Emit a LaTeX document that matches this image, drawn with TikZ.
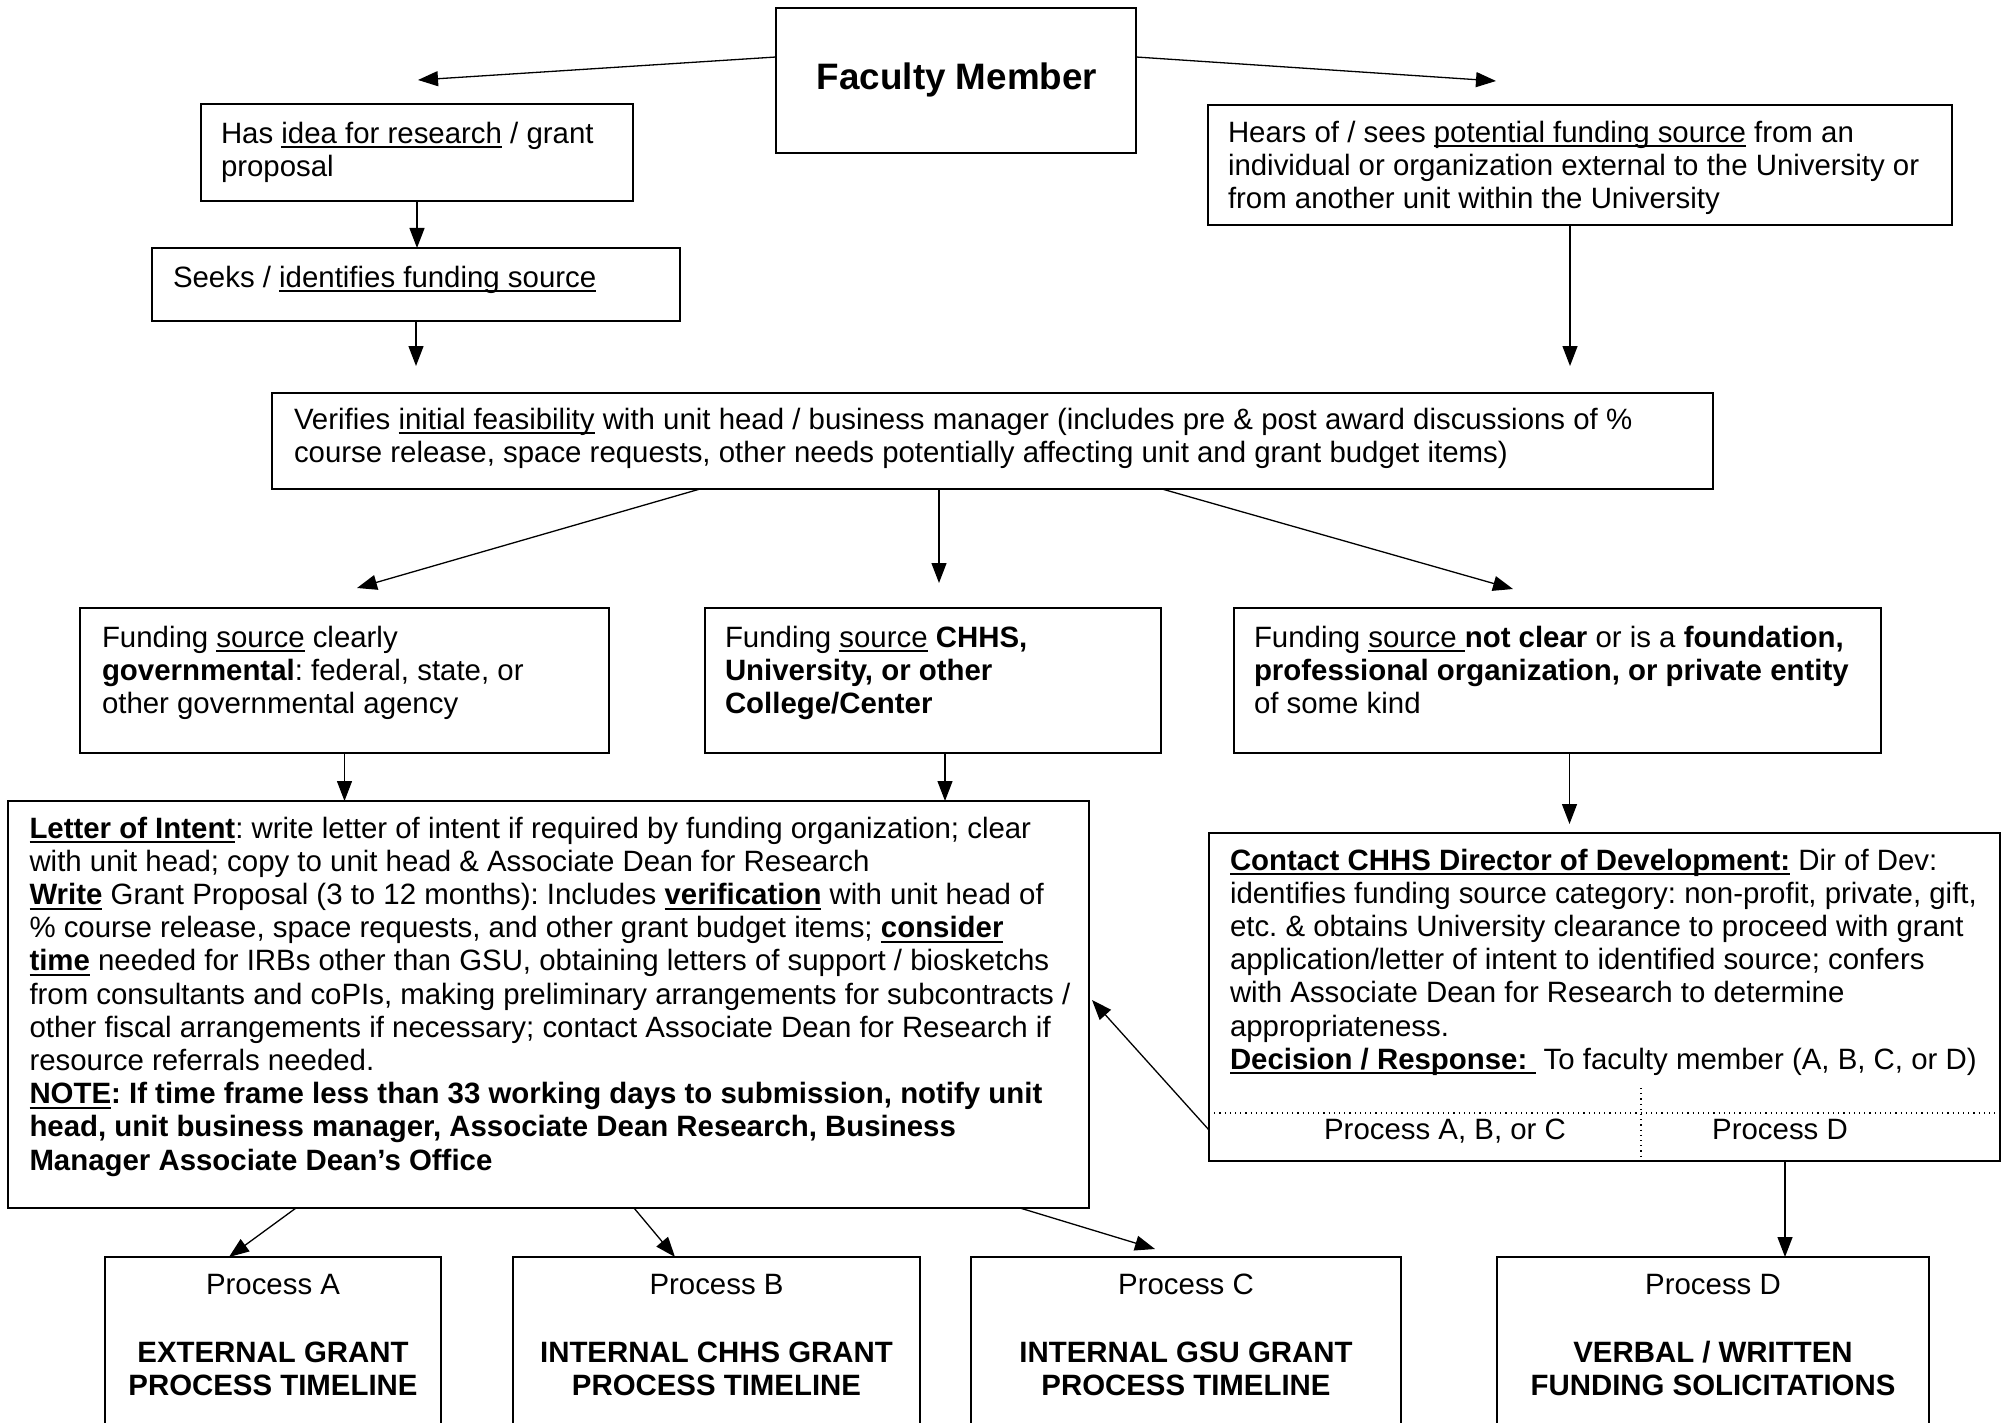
\documentclass[tikz,border=0pt]{standalone}
\usepackage{fontspec}
\setmainfont{Liberation Sans}
\usetikzlibrary{arrows.meta,calc}
\frenchspacing
\newcommand{\ulx}[1]{\leavevmode\setbox0=\hbox{#1}\rlap{\rule[-2.6pt]{\wd0}{1pt}}\box0\relax}
\newcommand{\bx}[5]{\node[box, minimum width={(#4-#2)*0.5pt}, minimum height={(#5-#3)*0.5pt}] (#1) at (#2,#3) {};}
\tikzset{
  box/.style={draw, line width=0.9pt, inner sep=0pt, outer sep=0pt, anchor=north west},
  txt/.style={inner sep=0pt, outer sep=0pt, anchor=north west, align=left, font={\fontsize{14.7}{16.6}\selectfont}},
  ctxt/.style={inner sep=0pt, outer sep=0pt, anchor=north, align=center, font={\bfseries\fontsize{14.7}{16.6}\selectfont}},
  btxt/.style={inner sep=0pt, outer sep=0pt, anchor=base, font={\fontsize{14.7}{16.6}\selectfont}},
  arr/.style={line width=0.65pt, -{Triangle[length=10pt,width=7.5pt]}},
  dots/.style={line width=0.6pt, dotted},
}
\begin{document}
\begin{tikzpicture}[x=0.5pt,y=-0.5pt]
\useasboundingbox (0,0) rectangle (2002,1423);
\fill[white] (0,0) rectangle (2002,1423);
\clip (0,0) rectangle (2002,1423);

% boxes
\bx{fac}{776}{8}{1136}{153}
\bx{has}{201}{104}{633}{201}
\bx{seeks}{152}{248}{680}{321}
\bx{hears}{1208}{105}{1952}{225}
\bx{ver}{272}{393}{1713}{489}
\bx{gov}{80}{608}{609}{753}
\bx{chhs}{705}{608}{1161}{753}
\bx{nc}{1234}{608}{1881}{753}
\bx{let}{8}{801}{1089}{1208}
\bx{con}{1209}{833}{2000}{1161}
\bx{pa}{105}{1257}{441}{1440}
\bx{pb}{513}{1257}{920}{1440}
\bx{pc}{971}{1257}{1401}{1440}
\bx{pd}{1497}{1257}{1929}{1440}

% texts
\node[inner sep=0pt, anchor=base, font={\bfseries\fontsize{18.4}{21}\selectfont}] (fact) at (957,90) {Faculty Member};
\node[txt] (hast) at (221,119.8) {\strut Has \ulx{idea for research} / grant\\proposal};
\node[txt] (seekt) at (173,263.8) {\strut Seeks / \ulx{identifies funding source}};
\node[txt] (heart) at (1228,118.8) {\strut Hears of / sees \ulx{potential funding source} from an\\individual or organization external to the University or\\from another unit within the University};
\node[txt] (vert) at (294,405.8) {\strut Verifies \ulx{initial feasibility} with unit head / business manager (includes pre \& post award discussions of \%\\course release, space requests, other needs potentially affecting unit and grant budget items)};
\node[txt] (govt) at (102,623.8) {\strut Funding \ulx{source} clearly\\\textbf{governmental}: federal, state, or\\other governmental agency};
\node[txt] (chht) at (725,623.8) {\strut Funding \ulx{source} \textbf{CHHS,}\\\textbf{University, or other}\\\textbf{College/Center}};
\node[txt] (nct) at (1254,623.8) {\strut Funding \ulx{source }\textbf{not clear} or is a \textbf{foundation,}\\\textbf{professional organization, or private entity}\\of some kind};
\node[txt] (lett) at (29.5,814.8) {\strut \ulx{\textbf{Letter of Intent}}: write letter of intent if required by funding organization; clear\\
with unit head; copy to unit head \& Associate Dean for Research\\
\ulx{\textbf{Write}} Grant Proposal (3 to 12 months): Includes \ulx{\textbf{verification}} with unit head of\\
\% course release, space requests, and other grant budget items; \ulx{\textbf{consider}}\\
\ulx{\textbf{time}} needed for IRBs other than GSU, obtaining letters of support / biosketchs\\
from consultants and coPIs, making preliminary arrangements for subcontracts /\\
other fiscal arrangements if necessary; contact Associate Dean for Research if\\
resource referrals needed.\\
\textbf{\ulx{NOTE}: If time frame less than 33 working days to submission, notify unit}\\
\textbf{head, unit business manager, Associate Dean Research, Business}\\
\textbf{Manager Associate Dean’s Office}};
\node[txt] (cont) at (1230,846.8) {\strut \ulx{\textbf{Contact CHHS Director of Development:}} Dir of Dev:\\
identifies funding source category: non-profit, private, gift,\\
etc. \& obtains University clearance to proceed with grant\\
application/letter of intent to identified source; confers\\
with Associate Dean for Research to determine\\
appropriateness.\\
\ulx{\textbf{Decision / Response:}~} To faculty member (A, B, C, or D)};
\node[btxt] (pabc) at (1445,1139) {Process A, B, or C};
\node[btxt] (pdl) at (1780,1139) {Process D};

\node[btxt] (pat) at (273,1294) {Process A};
\node[ctxt] (pat2) at (273,1338.8) {\strut EXTERNAL GRANT\\PROCESS TIMELINE};
\node[btxt] (pbt) at (716.5,1294) {Process B};
\node[ctxt] (pbt2) at (716.5,1338.8) {\strut INTERNAL CHHS GRANT\\PROCESS TIMELINE};
\node[btxt] (pct) at (1186,1294) {Process C};
\node[ctxt] (pct2) at (1186,1338.8) {\strut INTERNAL GSU GRANT\\PROCESS TIMELINE};
\node[btxt] (pdt) at (1713,1294) {Process D};
\node[ctxt] (pdt2) at (1713,1338.8) {\strut VERBAL / WRITTEN\\FUNDING SOLICITATIONS};

% dotted dividers
\draw[dots] ($(con.north west)+(0,280)$) -- ($(con.north east)+(0,280)$);
\draw[dots] ($(con.north west)+(432,255)$) -- ($(con.south west)+(432,0)$);

% free ends
\coordinate (tA) at (418,80);
\coordinate (tB) at (1496,81);
\coordinate (tC) at (416,366);
\coordinate (tD) at (1570,366);
\coordinate (tE) at (357,588);
\coordinate (tF) at (939,583);
\coordinate (tG) at (1513,589);
\coordinate (tH) at (1569.5,824);
\coordinate (tJ) at (1155,1249);

% connectors
\draw[arr] ($(fac.north west)+(0,49)$) -- (tA);
\draw[arr] ($(fac.north east)+(0,49)$) -- (tB);
\draw[arr] (has.south) -- (has.south |- seeks.north);
\draw[arr] (seeks.south) -- (tC);
\draw[arr] ($(hears.south)+(-10,0)$) -- (tD);
\draw[arr] ($(ver.south west)+(428,0)$) -- (tE);
\draw[arr] ($(ver.south west)+(667,0)$) -- (tF);
\draw[arr] ($(ver.south west)+(890,0)$) -- (tG);
\draw[arr] (gov.south) -- (gov.south |- let.north);
\draw[arr] ($(chhs.south)+(12,0)$) coordinate (cs) -- (cs |- let.north);
\draw[arr] ($(nc.south)+(12,0)$) -- (tH);
\draw[arr] ($(con.north west)+(0,297)$) -- ($(let.north east)+(3,199)$);
\draw[arr] ($(let.south west)+(288,0)$) -- ($(pa.north west)+(124,0)$);
\draw[arr] ($(let.south west)+(626,0)$) -- ($(pb.north west)+(162,0)$);
\draw[arr] ($(let.south west)+(1012,0)$) -- (tJ);
\draw[arr] ($(con.south west)+(576,0)$) coordinate (cd) -- (cd |- pd.north);
\end{tikzpicture}
\end{document}
